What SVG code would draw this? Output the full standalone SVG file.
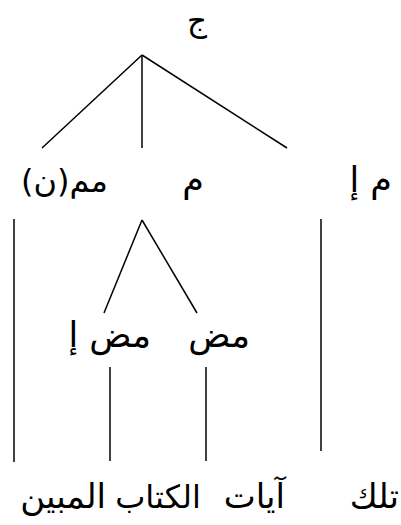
<svg xmlns="http://www.w3.org/2000/svg" width="401" height="525" viewBox="0 0 401 525">
<style>
.t{font-family:"DejaVu Sans",sans-serif;fill:#000;direction:rtl;unicode-bidi:embed}
.l{font-size:35px}
.s{font-size:32px}
.j{font-size:31px}
.w{font-size:34px}
.k{font-size:32px}
.c line{stroke:#000;stroke-width:1.5;fill:none}
</style>
<rect width="401" height="525" fill="#fff"/>
<g class="c" id="connectors">
<line x1="142" y1="55" x2="42" y2="148"/>
<line x1="142" y1="55" x2="142" y2="148"/>
<line x1="142" y1="55" x2="287" y2="148"/>
<line x1="142" y1="220" x2="104" y2="313"/>
<line x1="142" y1="220" x2="197" y2="313"/>
<line x1="14" y1="219" x2="14" y2="462"/>
<line x1="321" y1="219" x2="321" y2="451"/>
<line x1="110" y1="367" x2="110" y2="461"/>
<line x1="206" y1="367" x2="206" y2="461"/>
</g>
<g id="n-j"><text class="t j" x="197" y="31" text-anchor="middle">ج</text></g>
<g id="n-mmn"><text class="t s" x="108" y="192" text-anchor="start">مم(ن)</text></g>
<g id="n-m"><text class="t l" x="204" y="192" text-anchor="start">م</text></g>
<g id="n-mi"><text class="t l" x="392" y="192" text-anchor="start">م إ</text></g>
<g id="n-mdi"><text class="t l" x="151" y="347" text-anchor="start">مض إ</text></g>
<g id="n-md"><text class="t l" x="250" y="347" text-anchor="start">مض</text></g>
<g id="w-tilka"><text class="t w" x="399" y="508" text-anchor="start">تلك</text></g>
<g id="w-ayat"><text class="t w" x="285" y="508" text-anchor="start">آيات</text></g>
<g id="w-kitab"><text class="t k" x="201" y="508" text-anchor="start">الكتاب</text></g>
<g id="w-mubin"><text class="t w" x="106" y="508" text-anchor="start">المبين</text></g>
</svg>
